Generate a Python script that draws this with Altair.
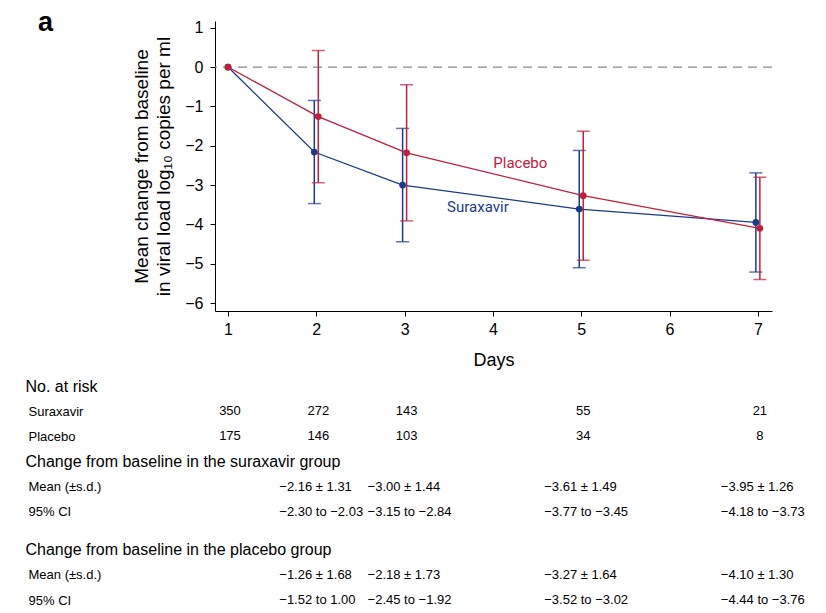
import altair as alt
import pandas as pd

# ---------------- data ----------------
days = [1, 2, 3, 5, 7]
sur_mean = [0.0, -2.16, -3.00, -3.61, -3.95]
sur_sd = [None, 1.31, 1.44, 1.49, 1.26]
pla_mean = [0.0, -1.26, -2.18, -3.27, -4.10]
pla_sd = [None, 1.68, 1.73, 1.64, 1.30]

groups = ["Suraxavir", "Placebo"]
colors = ["#1a3a8c", "#c0203a"]

label_text = ["Placebo", "Suraxavir"]
label_day = [4.31, 3.83]
label_val = [-2.44, -3.55]
label_color = ["#c0203a", "#1a3a8c"]

risk_sur = ["350", "272", "143", "55", "21"]
risk_pla = ["175", "146", "103", "34", "8"]

stat_days = [2, 3, 5, 7]
sur_mean_txt = ["−2.16 ± 1.31", "−3.00 ± 1.44", "−3.61 ± 1.49", "−3.95 ± 1.26"]
sur_ci_txt = ["−2.30 to −2.03", "−3.15 to −2.84", "−3.77 to −3.45", "−4.18 to −3.73"]
pla_mean_txt = ["−1.26 ± 1.68", "−2.18 ± 1.73", "−3.27 ± 1.64", "−4.10 ± 1.30"]
pla_ci_txt = ["−1.52 to 1.00", "−2.45 to −1.92", "−3.52 to −3.02", "−4.44 to −3.76"]

row_labels = [
    "No. at risk", "_1", "Suraxavir", "_3", "Placebo", "_5",
    "Change from baseline in the suraxavir group", "_7",
    "Mean (±s.d.)", "_9", "95% CI", "_11", "_12",
    "Change from baseline in the placebo group", "_14",
    "Mean (±s.d.) ", "_16", "95% CI ",
]

x_domain = [0.853, 7.16]
y_domain = [-6.2, 1.17]
FONT = "Liberation Sans"

# ---------------- plot ----------------
recs = []
for g, means, sds in [("Suraxavir", sur_mean, sur_sd), ("Placebo", pla_mean, pla_sd)]:
    for d, m, s in zip(days, means, sds):
        recs.append({"group": g, "day": d, "mean": m,
                     "lo": None if s is None else m - s,
                     "hi": None if s is None else m + s})
df = pd.DataFrame(recs)

xs = alt.Scale(domain=x_domain, nice=False, zero=False)
ys = alt.Scale(domain=y_domain, nice=False, zero=False)

x_enc = alt.X("day:Q", scale=xs, title="Days",
              axis=alt.Axis(values=[1, 2, 3, 4, 5, 6, 7], format="d", grid=False,
                            tickSize=5, labelPadding=5, labelFontSize=16,
                            titleFontSize=18, titleFontWeight="normal", titlePadding=14,
                            labelFont=FONT, titleFont=FONT, domainColor="black",
                            tickColor="black", labelColor="black", titleColor="black"))
y_enc = alt.Y("mean:Q", scale=ys,
              title=["Mean change from baseline", "in viral load log₁₀ copies per ml"],
              axis=alt.Axis(values=[1, 0, -1, -2, -3, -4, -5, -6], grid=False,
                            tickSize=5, labelPadding=7, labelFontSize=16,
                            titleFontSize=19, titleFontWeight="normal", titlePadding=11,
                            titleLineHeight=22,
                            labelFont=FONT, titleFont=FONT, domainColor="black",
                            tickColor="black", labelColor="black", titleColor="black"))

zero_df = pd.DataFrame({"y": [0]})
zero = alt.Chart(zero_df).mark_rule(color="#888888", strokeDash=[9, 6], strokeWidth=1.3).encode(
    y=alt.Y("y:Q", scale=ys))

layers = [zero]
for g, c, off in [("Suraxavir", colors[0], -2), ("Placebo", colors[1], 2)]:
    offx = {"expr": f"datum.day == 1 ? 0 : {off}"}
    base = alt.Chart(df).transform_filter(alt.datum.group == g)
    line = base.mark_line(color=c, strokeWidth=1.3, xOffset=offx).encode(x=x_enc, y=y_enc)
    err = base.transform_filter("isValid(datum.lo)").mark_rule(
        color=c, strokeWidth=1.5, xOffset=off).encode(
        x=alt.X("day:Q", scale=xs), y=alt.Y("lo:Q", scale=ys), y2="hi:Q")
    cap_lo = base.transform_filter("isValid(datum.lo)").mark_tick(
        color=c, size=13, thickness=1.5, orient="horizontal", xOffset=off).encode(
        x=alt.X("day:Q", scale=xs), y=alt.Y("lo:Q", scale=ys))
    cap_hi = base.transform_filter("isValid(datum.lo)").mark_tick(
        color=c, size=13, thickness=1.5, orient="horizontal", xOffset=off).encode(
        x=alt.X("day:Q", scale=xs), y=alt.Y("hi:Q", scale=ys))
    pts = base.mark_circle(color=c, size=45, opacity=1, xOffset=offx).encode(
        x=alt.X("day:Q", scale=xs), y=alt.Y("mean:Q", scale=ys))
    layers += [line, err, cap_lo, cap_hi, pts]

lab_df = pd.DataFrame({"text": label_text, "day": label_day, "val": label_val, "color": label_color})
labels = alt.Chart(lab_df).mark_text(fontSize=15, font="Roboto").encode(
    x=alt.X("day:Q", scale=xs), y=alt.Y("val:Q", scale=ys), text="text:N",
    color=alt.Color("color:N", scale=None))
layers.append(labels)

plot = alt.layer(*layers).properties(width=557, height=290)

# ---------------- table ----------------
trecs = []
for d, t in zip(days, risk_sur):
    trecs.append({"row": "Suraxavir", "day": d, "text": t, "kind": "n"})
for d, t in zip(days, risk_pla):
    trecs.append({"row": "Placebo", "day": d, "text": t, "kind": "n"})
for rowname, vals in [("Mean (±s.d.)", sur_mean_txt), ("95% CI", sur_ci_txt),
                      ("Mean (±s.d.) ", pla_mean_txt), ("95% CI ", pla_ci_txt)]:
    for d, t in zip(stat_days, vals):
        trecs.append({"row": rowname, "day": d, "text": t, "kind": "s"})
tdf = pd.DataFrame(trecs)

header_test = "datum.value == 'No. at risk' || indexof(datum.value, 'Change') == 0"
tbl_y = alt.Y("row:N", scale=alt.Scale(domain=row_labels, type="point", padding=0),
              title=None,
              axis=alt.Axis(domain=False, ticks=False, tickSize=0, grid=False,
                            labelAlign="left", labelFont=FONT, labelColor="black",
                            labelExpr="indexof(datum.value, '_') == 0 ? '' : datum.value",
                            labelFontSize={"condition": {"test": header_test, "value": 16}, "value": 13},
                            labelPadding={"condition": {"test": header_test, "value": 190}, "value": 187},
                            labelLimit=0))
tbl_x = alt.X("day:Q", scale=xs, axis=None)

tbase = alt.Chart(tdf)
t_n = tbase.transform_filter(alt.datum.kind == "n").mark_text(
    fontSize=13, font=FONT, align="center", dx=2, color="black").encode(x=tbl_x, y=tbl_y, text="text:N")
t_s = tbase.transform_filter(alt.datum.kind == "s").mark_text(
    fontSize=13, font=FONT, align="left", dx=-37, color="black").encode(x=tbl_x, y=tbl_y, text="text:N")
table = alt.layer(t_n, t_s).properties(width=557, height=214)

chart = alt.vconcat(plot, table, spacing=75, bounds="flush").properties(
    title=alt.TitleParams("a", anchor="start", frame="bounds", fontSize=27, fontWeight="bold",
                          font=FONT, dx=13, offset=-17, color="black"),
    padding={"left": 17, "top": 0, "right": 5, "bottom": 5},
    background="white",
).configure_view(strokeWidth=0, stroke="transparent")

chart.save("out.html", embed_options={"renderer": "svg", "actions": False})
